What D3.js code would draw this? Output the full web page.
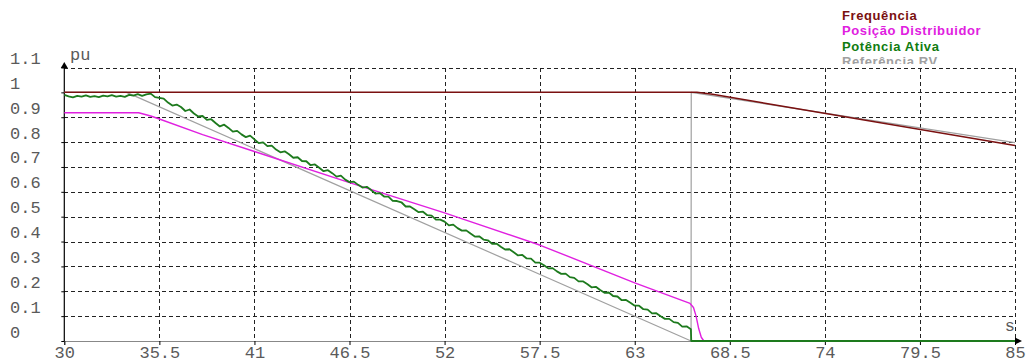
<!DOCTYPE html>
<html>
<head>
<meta charset="utf-8">
<script src="https://cdn.jsdelivr.net/npm/d3@7"></script>
<style>
	html, body { margin: 0; padding: 0; background: #fff; }
	svg { display: block; }
</style>
</head>
<body>
<svg id="chart" width="1028" height="362"></svg>
<script>

	// Data
	// ==============================================

	var xTicks = [30, 35.5, 41, 46.5, 52, 57.5, 63, 68.5, 74, 79.5, 85];
	var yTicks = [0, 0.1, 0.2, 0.3, 0.4, 0.5, 0.6, 0.7, 0.8, 0.9, 1, 1.1];

	var legendNames = ["Frequência", "Posição Distribuidor", "Potência Ativa", "Referência RV"];
	var legendColors = ["#7a1010", "#e020e0", "#107c10", "#a0a0a0"];

	var frequencia = [[30, 1.0], [66.6, 1.0], [67.5, 0.992], [85, 0.786]];

	var referenciaRV = [[30, 1.0], [33.6, 1.0], [66.26, 0], [66.27, 1.0], [85, 0.798]];

	var posicaoDistribuidor = [
		[30, 0.918], [34.3, 0.918], [35, 0.905], [35.5, 0.893], [38, 0.83], [41, 0.762],
		[46.5, 0.637], [52, 0.515], [57.5, 0.386], [63, 0.234], [66.2, 0.151],
		[66.4, 0.135], [66.55, 0.1], [66.7, 0.05], [66.85, 0.015], [67.0, 0], [85, 0]
	];

	// Potência ativa, sampled every 0.25 s from 30 s
	var potenciaT0 = 30, potenciaDt = 0.25;
	var potenciaAtiva = [
		0.990, 0.984, 0.980, 0.986, 0.983, 0.988, 0.982, 0.985, 0.981, 0.987,
		0.984, 0.989, 0.983, 0.986, 0.982, 0.990, 0.987, 0.993, 0.986, 0.992,
		0.995, 0.981, 0.978, 0.975, 0.959, 0.947, 0.951, 0.941, 0.925, 0.931,
		0.915, 0.903, 0.905, 0.889, 0.892, 0.877, 0.863, 0.870, 0.857, 0.842,
		0.845, 0.831, 0.820, 0.826, 0.811, 0.796, 0.799, 0.784, 0.786, 0.770,
		0.759, 0.763, 0.751, 0.737, 0.739, 0.724, 0.723, 0.707, 0.710, 0.697,
		0.683, 0.687, 0.675, 0.661, 0.665, 0.649, 0.639, 0.641, 0.628, 0.617,
		0.620, 0.607, 0.593, 0.595, 0.581, 0.581, 0.564, 0.563, 0.558, 0.541,
		0.541, 0.530, 0.518, 0.520, 0.506, 0.504, 0.488, 0.488, 0.480, 0.465,
		0.468, 0.454, 0.444, 0.445, 0.432, 0.420, 0.421, 0.408, 0.405, 0.391,
		0.392, 0.379, 0.368, 0.369, 0.357, 0.344, 0.346, 0.332, 0.331, 0.315,
		0.315, 0.305, 0.292, 0.293, 0.280, 0.270, 0.271, 0.257, 0.254, 0.240,
		0.240, 0.229, 0.216, 0.218, 0.205, 0.194, 0.195, 0.181, 0.179, 0.164,
		0.165, 0.154, 0.142, 0.142, 0.128, 0.126, 0.111, 0.112, 0.100, 0.089,
		0.089, 0.076, 0.073, 0.058, 0.059, 0.047
	];
	var potenciaTail = [[66.27, 0], [85, 0]];

	(function(){

		// Setup
		// ==============================================

		var svg = d3.select("#chart");
		var plotLeft = 64.3, plotRight = 1015, plotTop = 67.5, plotBottom = 341;

		var xScale = d3.scaleLinear().domain([30, 85]).range([plotLeft, plotRight]);
		var yScale = d3.scaleLinear().domain([0, 1.1]).range([plotBottom, plotTop]);
		var fmt = function(d){ return String(+d.toFixed(1)); };

		var monoFont = "'Liberation Mono', 'Courier New', monospace";
		var labelColor = "#5a5a5a";

		// Legend (partly hidden under the plot area)
		// ==============================================

		svg.append("clipPath").attr("id", "legend-clip")
			.append("rect").attr("x", 0).attr("y", 0).attr("width", 1028).attr("height", 64);

		svg.append("g")
			.attr("clip-path", "url(#legend-clip)")
			.selectAll("text")
			.data(legendNames)
			.enter().append("text")
				.attr("x", 842)
				.attr("y", function(d, i){ return 20 + i * 15.3; })
				.attr("fill", function(d, i){ return legendColors[i]; })
				.style("font", "bold 13px 'Liberation Sans', Arial, sans-serif")
				.style("letter-spacing", "0.6px")
				.text(function(d){ return d; });

		// Grid
		// ==============================================

		var grid = svg.append("g")
			.attr("stroke", "#222")
			.attr("stroke-width", 1)
			.attr("stroke-dasharray", "4,3")
			.attr("shape-rendering", "crispEdges");

		grid.selectAll("line.h")
			.data(yTicks.filter(function(d){ return d > 0; }))
			.enter().append("line")
				.attr("class", "h")
				.attr("x1", plotLeft).attr("x2", plotRight)
				.attr("y1", function(d){ return Math.round(yScale(d)) + 0.5; })
				.attr("y2", function(d){ return Math.round(yScale(d)) + 0.5; });

		grid.selectAll("line.v")
			.data(xTicks.filter(function(d){ return d > 30; }))
			.enter().append("line")
				.attr("class", "v")
				.attr("y1", plotTop).attr("y2", plotBottom)
				.attr("x1", function(d){ return Math.round(xScale(d)) + 0.5; })
				.attr("x2", function(d){ return Math.round(xScale(d)) + 0.5; });

		// Axes
		// ==============================================

		var xAxis = d3.axisBottom(xScale).tickValues(xTicks).tickFormat(fmt).tickSize(4).tickPadding(4);
		var gx = svg.append("g")
			.attr("transform", "translate(0," + plotBottom + ")")
			.call(xAxis);
		gx.select(".domain").attr("stroke", "#888");
		gx.selectAll(".tick line").attr("stroke", "#000");
		gx.selectAll(".tick text")
			.attr("fill", labelColor)
			.attr("y", 17)
			.attr("dy", 0)
			.style("font", "17px " + monoFont);

		var yAxis = d3.axisLeft(yScale).tickValues(yTicks).tickFormat(fmt).tickSize(3);
		var gy = svg.append("g")
			.attr("transform", "translate(" + plotLeft + ",0)")
			.call(yAxis);
		gy.select(".domain").remove();
		gy.selectAll(".tick line").attr("stroke", "#000");
		gy.selectAll(".tick text")
			.attr("fill", labelColor)
			.attr("text-anchor", "start")
			.attr("x", 10 - plotLeft)
			.attr("y", -4)
			.attr("dy", 0)
			.style("font", "17px " + monoFont);

		// y axis line + arrows
		svg.append("line")
			.attr("x1", plotLeft).attr("x2", plotLeft)
			.attr("y1", 66).attr("y2", plotBottom)
			.attr("stroke", "#000").attr("stroke-width", 1.2);

		svg.append("path")
			.attr("d", "M" + plotLeft + ",62 L" + (plotLeft - 3.5) + ",68 L" + (plotLeft + 3.5) + ",68 Z")
			.attr("fill", "#000");

		svg.append("path")
			.attr("d", "M" + (plotRight + 7) + "," + plotBottom + " L" + plotRight + "," + (plotBottom - 3.5) +
				" L" + plotRight + "," + (plotBottom + 3.5) + " Z")
			.attr("fill", "#000");

		svg.append("text")
			.attr("x", 70).attr("y", 60)
			.attr("fill", labelColor)
			.style("font", "17px " + monoFont)
			.text("pu");

		svg.append("text")
			.attr("x", 1015).attr("y", 331)
			.attr("text-anchor", "end")
			.attr("fill", labelColor)
			.style("font", "17px " + monoFont)
			.text("s");

		// Series
		// ==============================================

		var line = d3.line()
			.x(function(d){ return xScale(d[0]); })
			.y(function(d){ return yScale(d[1]); });

		var potenciaPoints = potenciaAtiva.map(function(v, i){ return [potenciaT0 + i * potenciaDt, v]; })
			.concat(potenciaTail);

		var series = [
			{ data: referenciaRV, color: legendColors[3], width: 1.2 },
			{ data: posicaoDistribuidor, color: legendColors[1], width: 1.4 },
			{ data: potenciaPoints, color: "#1d7a1d", width: 1.8 },
			{ data: frequencia, color: legendColors[0], width: 1.5 }
		];

		svg.append("g").selectAll("path")
			.data(series)
			.enter().append("path")
				.attr("fill", "none")
				.attr("stroke", function(d){ return d.color; })
				.attr("stroke-width", function(d){ return d.width; })
				.attr("stroke-linejoin", "round")
				.attr("d", function(d){ return line(d.data); });

	})();

</script>
</body>
</html>
